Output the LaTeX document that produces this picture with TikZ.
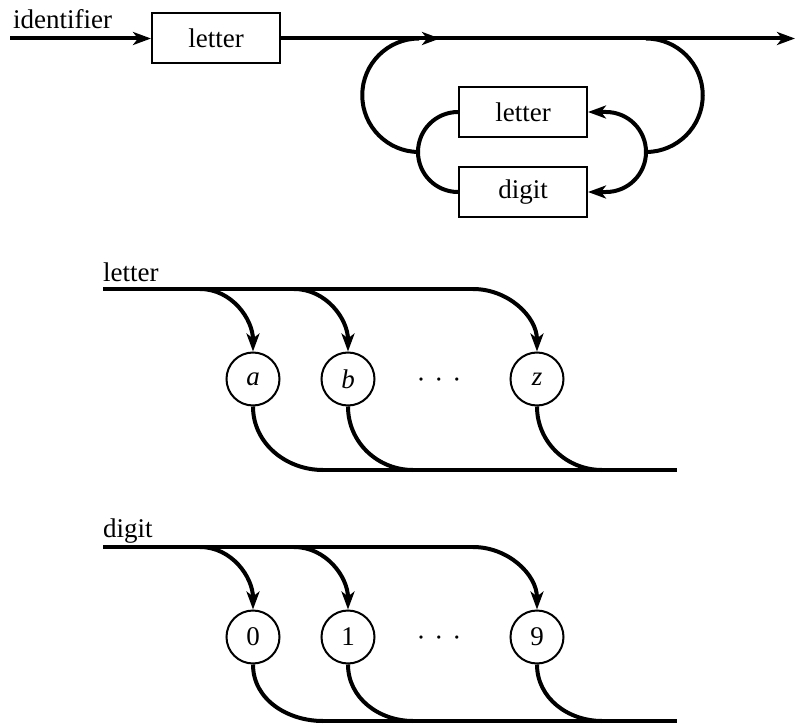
\documentclass[tikz,border=0pt]{standalone}
\usepackage{fontspec}
\setmainfont{Liberation Serif}
\usetikzlibrary{arrows.meta}
\begin{document}
\begin{tikzpicture}[x=1pt,y=1pt,
  txt/.style={font=\fontsize{27}{32}\selectfont, inner sep=0pt},
  boxnode/.style={draw, line width=2pt, minimum width=128pt, minimum height=50pt, inner sep=0pt, font=\fontsize{27}{32}\selectfont},
  circnode/.style={draw, circle, line width=2pt, minimum size=53pt, inner sep=0pt, font=\fontsize{27}{32}\selectfont},
  flow/.style={line width=4pt},
  arr/.style={-{Stealth[length=18pt,width=13pt,inset=5pt]}},
]
\useasboundingbox (0,0) rectangle (796,-725);

% ---------- identifier ----------
\node[txt, anchor=base west] (lid) at (13,-29) {identifier};
\coordinate (s0) at (10,-38.5);
\node[boxnode] (L1) at (216,-38.5) {letter};
\coordinate (m1) at (440,-38.5);
\coordinate (e0) at (795,-38.5);
\coordinate (R) at (646,-38.5);
\node[boxnode] (L2) at (523,-112) {letter};
\node[boxnode] (D2) at (523,-192) {digit};
\coordinate (J1) at (419,-152);
\coordinate (J2) at (646,-152);

\draw[flow,arr] (s0) -- (L1.west);
\draw[flow,arr] (L1.east) -- (e0);
\draw[flow,arr] (L1.east) -- (m1);
\draw[flow] (R) arc[start angle=90,end angle=-90,radius=56.75];
\draw[flow,arr] (J2) arc[start angle=0,end angle=90,radius=40] -- (L2.east);
\draw[flow,arr] (J2) arc[start angle=0,end angle=-90,radius=40] -- (D2.east);
\draw[flow] (L2.west) arc[start angle=90,end angle=180,radius=40];
\draw[flow] (D2.west) arc[start angle=270,end angle=180,radius=40];
\draw[flow] (J1) arc[start angle=-90,end angle=-270,radius=56.75];

% ---------- letter ----------
\node[txt, anchor=base west] (ll) at (103,-281) {letter};
\coordinate (t1) at (103,-289);
\coordinate (t2) at (473,-289);
\coordinate (ba) at (200,-289);
\coordinate (bb) at (294,-289);
\node[circnode] (ca) at (253,-379) {\itshape a};
\node[circnode] (cb) at (348,-379) {\itshape b};
\node[circnode] (cz) at (537,-379) {\itshape z};
\node[txt] (dots1) at (439,-383) {·\hspace{9pt}·\hspace{9pt}·};
\coordinate (u1) at (323,-470);
\coordinate (u2) at (413,-470);
\coordinate (u3) at (602,-470);
\coordinate (u4) at (677,-470);
\draw[flow] (t1) -- (t2);
\draw[flow,arr] (ba) to[out=0,in=90] (ca.north);
\draw[flow,arr] (bb) to[out=0,in=90] (cb.north);
\draw[flow,arr] (t2) to[out=0,in=90] (cz.north);
\draw[flow] (ca.south) to[out=-90,in=180] (u1);
\draw[flow] (cb.south) to[out=-90,in=180] (u2);
\draw[flow] (cz.south) to[out=-90,in=180] (u3);
\draw[flow] (u1) -- (u4);

% ---------- digit ----------
\node[txt, anchor=base west] (dl) at (103,-537) {digit};
\coordinate (v1) at (103,-547);
\coordinate (v2) at (473,-547);
\coordinate (da) at (200,-547);
\coordinate (db) at (294,-547);
\node[circnode] (c0) at (253,-637) {0};
\node[circnode] (c1) at (348,-637) {1};
\node[circnode] (c9) at (537,-637) {9};
\node[txt] (dots2) at (439,-641) {·\hspace{9pt}·\hspace{9pt}·};
\coordinate (w1) at (323,-721);
\coordinate (w2) at (413,-721);
\coordinate (w3) at (602,-721);
\coordinate (w4) at (677,-721);
\draw[flow] (v1) -- (v2);
\draw[flow,arr] (da) to[out=0,in=90] (c0.north);
\draw[flow,arr] (db) to[out=0,in=90] (c1.north);
\draw[flow,arr] (v2) to[out=0,in=90] (c9.north);
\draw[flow] (c0.south) to[out=-90,in=180] (w1);
\draw[flow] (c1.south) to[out=-90,in=180] (w2);
\draw[flow] (c9.south) to[out=-90,in=180] (w3);
\draw[flow] (w1) -- (w4);
\end{tikzpicture}
\end{document}
